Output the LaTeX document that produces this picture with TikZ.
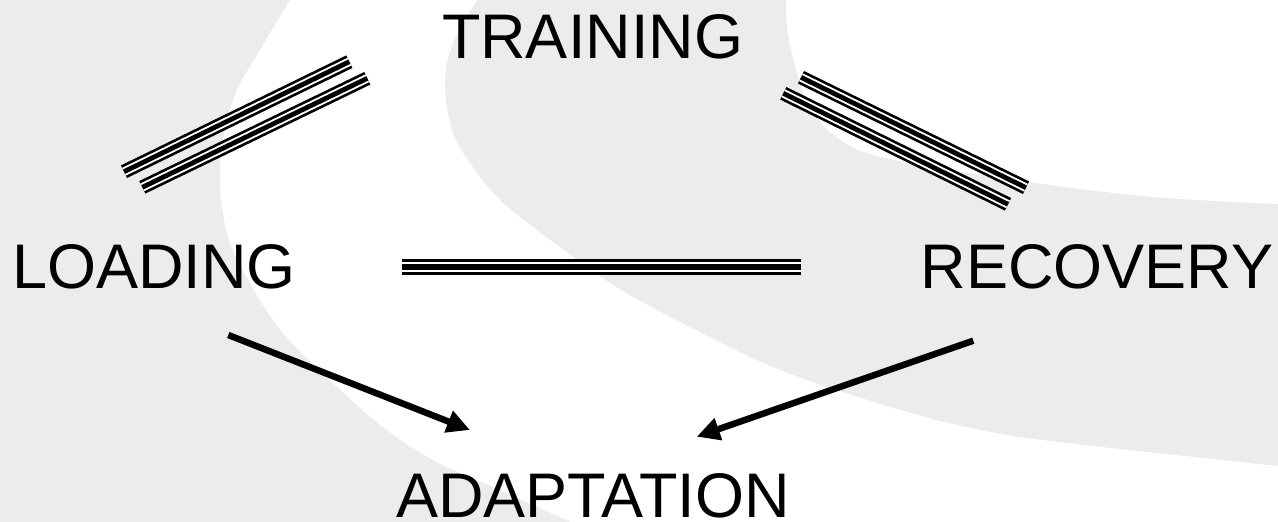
\documentclass[tikz,border=0pt]{standalone}
\usepackage{fontspec}
\setmainfont{Liberation Sans}
\usetikzlibrary{arrows.meta}
\definecolor{bandgray}{RGB}{236,236,236}
\tikzset{
  lbl/.style={font=\fontsize{63}{70}\selectfont, inner sep=0pt, anchor=base},
  % thin-thick-thin compound line
  triplewide/.style={draw=black, line width=16pt,
    postaction={draw=white, line width=10.2pt},
    postaction={draw=black, line width=5.6pt}},
  triplenarrow/.style={draw=black, line width=14pt,
    postaction={draw=white, line width=8.6pt},
    postaction={draw=black, line width=4.8pt}},
  arr/.style={draw=black, line width=6.5pt, -{Triangle[length=23pt,width=22pt]}}
}
\begin{document}
\begin{tikzpicture}[x=1pt, y=-1pt]
\useasboundingbox (0,0) rectangle (1278,522);

% background bands
\fill[bandgray] (0,0) rectangle (1278,522);
\fill[white] plot[smooth, tension=0.6] coordinates {(290,0) (260,50) (233,100) (220,167) (227,233) (250,283) (283,333) (333,383) (383,427) (433,460) (493,487) (571,522)}
  -- (1278,522) -- (1278,466)
  -- plot[smooth, tension=0.6] coordinates {(1278,466) (1067,443) (980,430) (897,409) (780,370) (680,322) (613,285) (557,245) (520,217) (500,200) (477,173) (453,133) (445,83) (453,43) (477,0)}
  -- cycle;
\fill[white] plot[smooth, tension=0.6] coordinates {(786,0) (787,27) (794,61) (807,101) (834,135) (885,158) (1029,182) (1154,197) (1278,204)}
  -- (1278,0) -- cycle;

% labels
\node[lbl] (training) at (592.5,58) {TRAINING};
\node[lbl] (loading) at (154,288) {LOADING};
\node[lbl] (recovery) at (1097,288) {RECOVERY};
\node[lbl] (adaptation) at (593,517) {ADAPTATION};

% connector end points
\coordinate (lt1a) at (124,171.7);   \coordinate (lt1b) at (349.3,61.7);
\coordinate (lt2a) at (142.3,187.3); \coordinate (lt2b) at (367.3,78.3);
\coordinate (rt1a) at (801,77.3);    \coordinate (rt1b) at (1026,187.7);
\coordinate (rt2a) at (783.3,93.3);  \coordinate (rt2b) at (1008,204.3);
\coordinate (lra) at (402,267.2);    \coordinate (lrb) at (801,267.2);
\coordinate (lda) at (228.3,335);    \coordinate (ldb) at (470,430);
\coordinate (rda) at (973.3,340.7);  \coordinate (rdb) at (696.7,436.7);

% training links
\path[triplenarrow] (lt1a) -- (lt1b);
\path[triplenarrow] (lt2a) -- (lt2b);
\path[triplenarrow] (rt1a) -- (rt1b);
\path[triplenarrow] (rt2a) -- (rt2b);

% loading -- recovery link
\path[triplewide] (lra) -- (lrb);

% arrows into adaptation
\draw[arr] (lda) -- (ldb);
\draw[arr] (rda) -- (rdb);
\end{tikzpicture}
\end{document}
